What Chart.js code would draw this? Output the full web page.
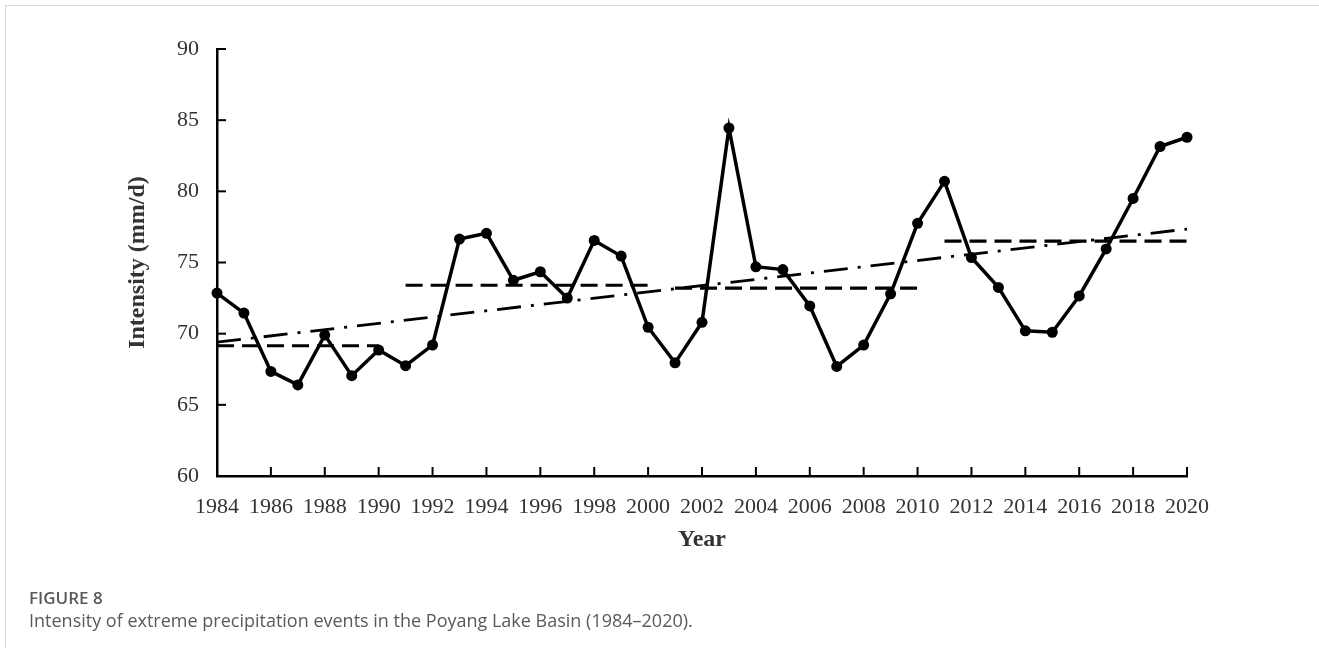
<!DOCTYPE html>
<html>
<head>
<meta charset="utf-8">
<script src="https://cdn.jsdelivr.net/npm/chart.js@4.4.0/dist/chart.umd.min.js"></script>
<style>
    body { margin: 0; background: #fff; }
    #wrap { position: relative; width: 1319px; height: 648px; overflow: hidden; }
    #frame { position: absolute; left: 5px; top: 5px; width: 1400px; height: 700px; border-left: 1px solid #d9d9d9; border-top: 1px solid #d9d9d9; }
    #chart { position: absolute; left: 0; top: 0; }
    .cap1 { position: absolute; left: 29px; top: 586px; font: 600 17px "Open Sans", sans-serif; color: #5a5a5a; }
    .cap2 { position: absolute; left: 29px; top: 608px; font: 18px "Open Sans", sans-serif; color: #5a5a5a; }
</style>
</head>
<body>
<div id="wrap">
    <div id="frame"></div>
    <canvas id="chart" width="1319" height="648"></canvas>
    <div class="cap1">FIGURE 8</div>
    <div class="cap2">Intensity of extreme precipitation events in the Poyang Lake Basin (1984–2020).</div>
</div>
<script>
// values
const years = [1984, 1985, 1986, 1987, 1988, 1989, 1990, 1991, 1992, 1993, 1994, 1995, 1996,
    1997, 1998, 1999, 2000, 2001, 2002, 2003, 2004, 2005, 2006, 2007, 2008, 2009, 2010,
    2011, 2012, 2013, 2014, 2015, 2016, 2017, 2018, 2019, 2020];
const intensity = [72.85, 71.45, 67.35, 66.4, 69.9, 67.05, 68.85, 67.75, 69.2, 76.65, 77.05, 73.75, 74.35,
    72.5, 76.55, 75.45, 70.45, 67.95, 70.8, 84.45, 74.7, 74.5, 71.95, 67.7, 69.2, 72.8, 77.75,
    80.7, 75.35, 73.25, 70.2, 70.1, 72.65, 75.95, 79.5, 83.15, 83.8];

// segment means (start year, end year, value)
const meanYears = [[1984, 1990], [1991, 2000], [2001, 2010], [2011, 2020]];
const meanValues = [69.15, 73.4, 73.2, 76.5];

// linear trend
const trendYears = [1984, 2020];
const trendValues = [69.4, 77.35];

const yTicks = [60, 65, 70, 75, 80, 85, 90];

const serif = 'Liberation Serif';

const datasets = [];
meanYears.forEach((seg, i) => {
    datasets.push({
        data: seg.map(yr => ({ x: yr, y: meanValues[i] })),
        borderColor: '#000',
        borderWidth: 3.2,
        borderDash: [17, 8],
        pointRadius: 0,
        order: 3,
    });
});
datasets.push({
    data: trendYears.map((yr, i) => ({ x: yr, y: trendValues[i] })),
    borderColor: '#000',
    borderWidth: 2.8,
    borderDash: [24, 10, 3, 10],
    pointRadius: 0,
    order: 2,
});
datasets.push({
    data: years.map((yr, i) => ({ x: yr, y: intensity[i] })),
    borderColor: '#000',
    backgroundColor: '#000',
    borderWidth: 3.5,
    pointRadius: 5.5,
    pointBorderWidth: 0,
    order: 1,
});

// small inward tick marks, drawn from the scales
const innerTicks = {
    id: 'innerTicks',
    afterDraw: (chart) => {
        const { ctx, chartArea } = chart;
        const xs = chart.scales.x, ys = chart.scales.y;
        ctx.save();
        ctx.strokeStyle = '#000';
        ctx.lineWidth = 2;
        xs.ticks.forEach(t => {
            const px = xs.getPixelForValue(t.value);
            if (t.value === xs.min) return;
            ctx.beginPath();
            ctx.moveTo(px, chartArea.bottom);
            ctx.lineTo(px, chartArea.bottom - 9);
            ctx.stroke();
        });
        ys.ticks.forEach(t => {
            const py = ys.getPixelForValue(t.value);
            if (t.value === ys.min) return;
            ctx.beginPath();
            ctx.moveTo(chartArea.left, py);
            ctx.lineTo(chartArea.left + 9, py);
            ctx.stroke();
        });
        ctx.restore();
    }
};

const ctx = document.getElementById('chart');
const myChart = new Chart(ctx, {
    type: 'line',
    data: { datasets: datasets },
    options: {
        responsive: false,
        animation: false,
        clip: false,
        layout: { padding: { left: 123, right: 132, top: 49, bottom: 94 } },
        plugins: { legend: { display: false }, tooltip: { enabled: false } },
        scales: {
            x: {
                type: 'linear',
                min: 1984,
                max: 2020,
                afterFit: (s) => { s.height = 78; },
                ticks: {
                    stepSize: 2,
                    padding: 18,
                    color: '#333',
                    font: { family: serif, size: 22 },
                    callback: (v) => String(v),
                    maxRotation: 0,
                },
                grid: { drawOnChartArea: false, drawTicks: false },
                border: { color: '#000', width: 2.5 },
                title: {
                    display: true,
                    text: 'Year',
                    color: '#333',
                    padding: 0,
                    font: { family: serif, size: 24, weight: 'bold' },
                },
            },
            y: {
                min: 60,
                max: 90,
                afterFit: (s) => { s.width = 94; },
                afterBuildTicks: (s) => { s.ticks = yTicks.map(v => ({ value: v })); },
                ticks: {
                    padding: 18,
                    color: '#333',
                    font: { family: serif, size: 22 },
                },
                grid: { drawOnChartArea: false, drawTicks: false },
                border: { color: '#000', width: 2.5 },
                title: {
                    display: true,
                    text: 'Intensity (mm/d)',
                    color: '#333',
                    padding: 0,
                    font: { family: serif, size: 24, weight: 'bold' },
                },
            },
        },
    },
    plugins: [innerTicks],
});
</script>
</body>
</html>
